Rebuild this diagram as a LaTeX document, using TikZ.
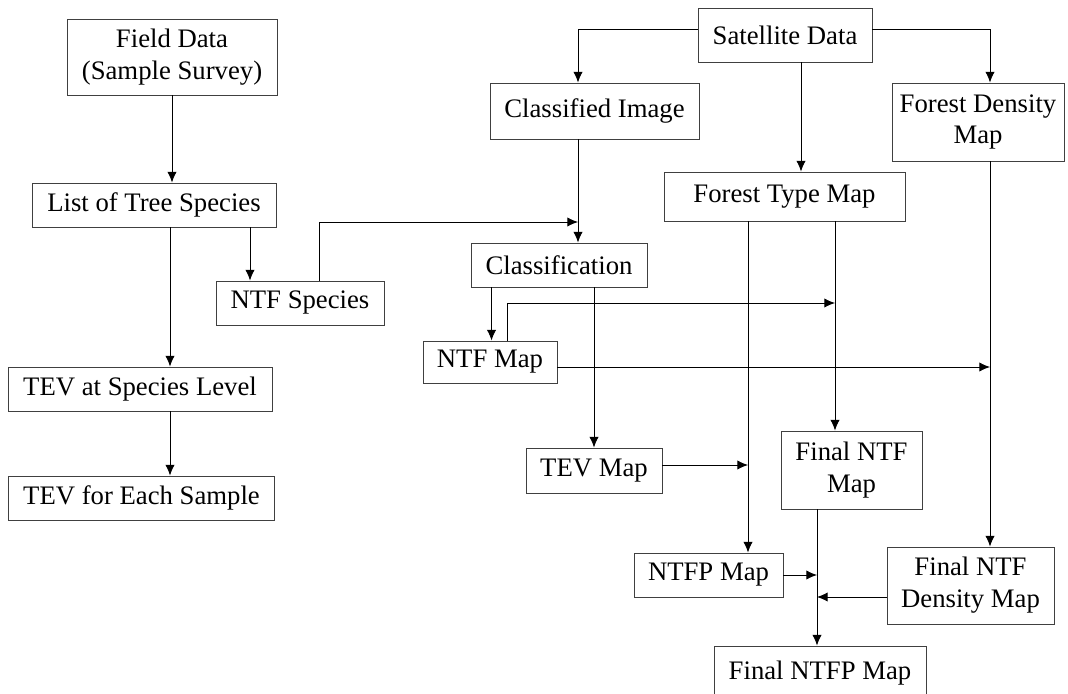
\documentclass[tikz,border=0pt]{standalone}
\usepackage{fontspec}
\setmainfont{Liberation Serif}
\usepackage{tikz}
\usetikzlibrary{arrows.meta, calc, positioning}
\tikzset{
	-{Latex[length=1.6mm, width=1.4mm]}, line width=0.5pt, draw=black!75,
	box/.style = {rectangle, draw=black!75, inner sep=0pt, align=center,
		font=\fontsize{11.4}{13.6}\selectfont},
}

\begin{document}
\begin{tikzpicture}[x=0.015cm, y=-0.015cm]
	\useasboundingbox (0,0) rectangle (1068,694);

	% field survey branch
	\node[box, minimum width=3.15cm, minimum height=1.14cm] (field) at (172,57) {Field Data\\(Sample Survey)};
	\node[box, minimum width=3.66cm, minimum height=0.66cm] (list) at (154,205) {List of Tree Species};
	\node[box, minimum width=2.52cm, minimum height=0.66cm] (ntfsp) at (300,303) {NTF Species};
	\node[box, minimum width=3.96cm, minimum height=0.66cm] (tevsp) at (140,389) {TEV at Species Level};
	\node[box, minimum width=4.0cm, minimum height=0.66cm] (teveach) at (141.5,498) {TEV for Each Sample};

	% satellite branch
	\node[box, minimum width=2.61cm, minimum height=0.81cm] (sat) at (785,35) {Satellite Data};
	\node[box, minimum width=3.135cm, minimum height=0.84cm] (climg) at (594.5,111) {Classified Image};
	\node[box, minimum width=2.58cm, minimum height=1.17cm] (fdens) at (978,122) {Forest Density\\Map};
	\node[box, minimum width=3.615cm, minimum height=0.735cm] (ftype) at (784.5,196.5) {Forest Type Map};
	\node[box, minimum width=2.64cm, minimum height=0.66cm] (classif) at (559,265) {Classification};
	\node[box, minimum width=2.01cm, minimum height=0.63cm] (ntfmap) at (490,362) {NTF Map};
	\node[box, minimum width=2.04cm, minimum height=0.675cm] (tevmap) at (594,470.5) {TEV Map};
	\node[box, minimum width=2.115cm, minimum height=1.17cm] (finalntf) at (851.5,470) {Final NTF\\Map};
	\node[box, minimum width=2.235cm, minimum height=0.66cm] (ntfpmap) at (708.5,575) {NTFP Map};
	\node[box, minimum width=2.505cm, minimum height=1.155cm] (finaldens) at (970.5,585.5) {Final NTF\\Density Map};
	\node[box, minimum width=3.18cm, minimum height=0.81cm] (finalntfp) at (820,673) {Final NTFP Map};

	% joints where arrows meet a line
	\coordinate (j1) at (578,222);
	\coordinate (j2) at (835,303);
	\coordinate (j3) at (990,367);
	\coordinate (j4) at (748,465);
	\coordinate (j5) at (817,575);
	\coordinate (j6) at (817,597);

	% left column
	\draw (field.south) -- (field.south |- list.north);
	\draw ($(list.south)+(16,0)$) coordinate (l1) -- (l1 |- tevsp.north);
	\draw (tevsp.south -| l1) -- (teveach.north -| l1);
	\draw ($(list.south)+(96,0)$) coordinate (l2) -- (l2 |- ntfsp.north);
	\draw ($(ntfsp.north)+(19,0)$) |- (j1);

	% from the satellite data
	\draw ($(sat.west)+(0,-6)$) -| (climg.north -| j1);
	\draw ($(sat.east)+(0,-6)$) -| (fdens.north -| j3);
	\draw ($(sat.south)+(16,0)$) coordinate (s1) -- (s1 |- ftype.north);
	\draw (climg.south -| j1) -- (classif.north -| j1);

	% classification outputs
	\draw ($(classif.south west)+(21,0)$) coordinate (c1) -- (c1 |- ntfmap.north);
	\draw (classif.south -| tevmap.north) -- (tevmap.north);
	\draw ($(ntfmap.north west)+(85,0)$) |- (j2);
	\draw (ntfmap.east |- j3) -- (j3);

	% overlays
	\draw (ftype.south -| j2) -- (finalntf.north -| j2);
	\draw (ftype.south -| j4) -- (ntfpmap.north -| j4);
	\draw (tevmap.east |- j4) -- (j4);
	\draw (fdens.south -| j3) -- (finaldens.north -| j3);
	\draw (finalntf.south -| j5) -- (finalntfp.north -| j5);
	\draw (ntfpmap.east) -- (j5);
	\draw (finaldens.west |- j6) -- (j6);
\end{tikzpicture}
\end{document}
